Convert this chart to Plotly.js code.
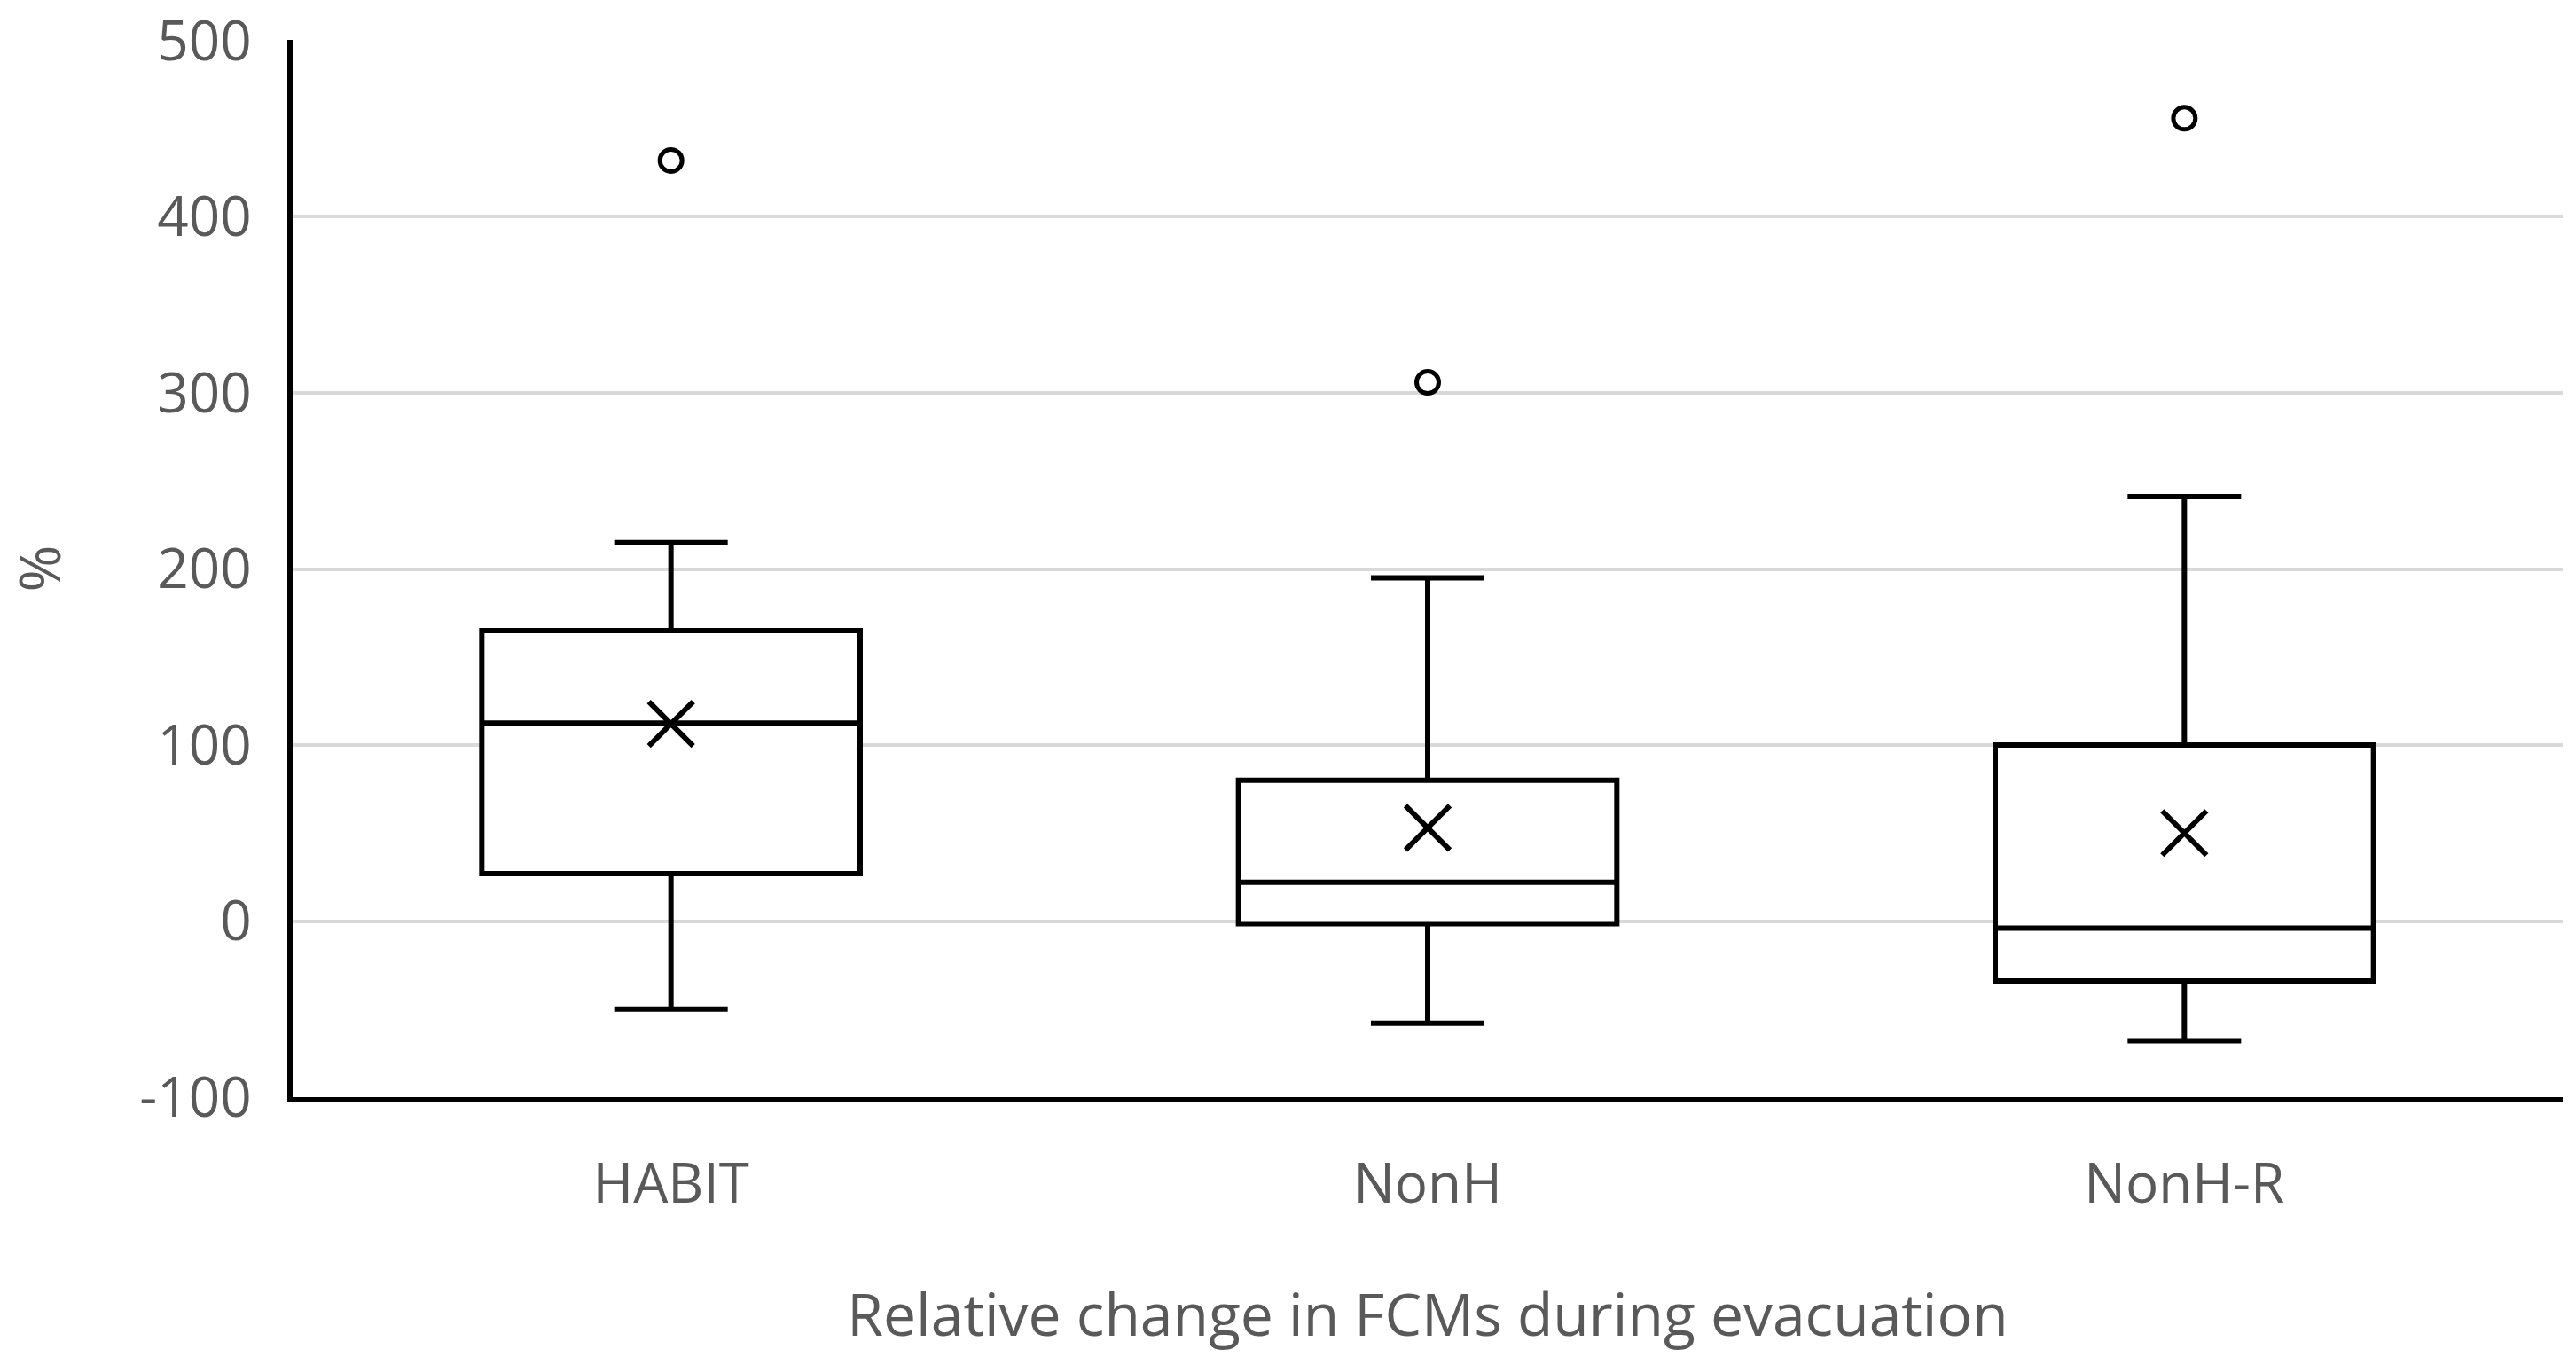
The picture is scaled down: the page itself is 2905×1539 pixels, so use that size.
<!DOCTYPE html>
<html>
<head>
<meta charset="utf-8">
<script src="https://cdn.plot.ly/plotly-3.0.1.min.js"></script>
<style>
  html, body { margin: 0; padding: 0; background: #ffffff; }
  #chart { width: 2905px; height: 1539px; }
</style>
</head>
<body>
<div id="chart"></div>
<script>
// values (%)
const categories = ["HABIT", "NonH", "NonH-R"];
const lowerWhisker = [-50, -58, -68];
const quartile1 = [27, -1.5, -34];
const medians = [112.5, 22, -4];
const quartile3 = [165, 80, 100];
const upperWhisker = [215, 195, 241];
const means = [112, 53, 50];
const outlierCats = ["HABIT", "NonH", "NonH-R"];
const outlierValues = [432, 306, 456];

const yTicks = [-100, 0, 100, 200, 300, 400, 500];

const textGrey = "#595959";
const font = { family: "Open Sans", size: 62, color: textGrey };

const boxTrace = {
  type: "box",
  x: categories,
  q1: quartile1,
  median: medians,
  q3: quartile3,
  lowerfence: lowerWhisker,
  upperfence: upperWhisker,
  width: 0.5,
  boxpoints: false,
  whiskerwidth: 0.3,
  fillcolor: "#ffffff",
  line: { color: "#000000", width: 6 },
  hoverinfo: "skip",
  showlegend: false,
};

const meanTrace = {
  type: "scatter",
  mode: "markers",
  x: categories,
  y: means,
  marker: {
    symbol: "x-thin",
    size: 50,
    color: "#000000",
    line: { color: "#000000", width: 6 },
  },
  hoverinfo: "skip",
  showlegend: false,
};

const outlierTrace = {
  type: "scatter",
  mode: "markers",
  x: outlierCats,
  y: outlierValues,
  marker: {
    symbol: "circle-open",
    size: 25,
    color: "#000000",
    line: { color: "#000000", width: 5 },
  },
  hoverinfo: "skip",
  showlegend: false,
};

const layout = {
  width: 2905,
  height: 1539,
  paper_bgcolor: "#ffffff",
  plot_bgcolor: "#ffffff",
  font: font,
  margin: { l: 330, r: 15, t: 45, b: 302 },
  xaxis: {
    type: "category",
    range: [-0.5, 2.5],
    showgrid: false,
    zeroline: false,
    showline: true,
    linecolor: "#000000",
    linewidth: 6,
    ticks: "",
    ticklabelstandoff: 39,
    tickfont: font,
    title: {
      text: "Relative change in FCMs during evacuation",
      font: { family: "Open Sans", size: 66, color: textGrey },
      standoff: 88,
    },
  },
  yaxis: {
    range: [-100, 500.5],
    tickvals: yTicks,
    ticktext: yTicks.map(String),
    ticklabeloverflow: "allow",
    showgrid: true,
    gridcolor: "#d9d9d9",
    gridwidth: 4,
    zeroline: false,
    showline: true,
    linecolor: "#000000",
    linewidth: 6,
    ticks: "",
    ticklabelstandoff: 28,
    tickfont: font,
    title: {
      text: "%",
      font: { family: "Open Sans", size: 64, color: textGrey },
      standoff: 114,
    },
  },
};

Plotly.newPlot("chart", [boxTrace, meanTrace, outlierTrace], layout, {
  displayModeBar: false,
  staticPlot: true,
});
</script>
</body>
</html>
